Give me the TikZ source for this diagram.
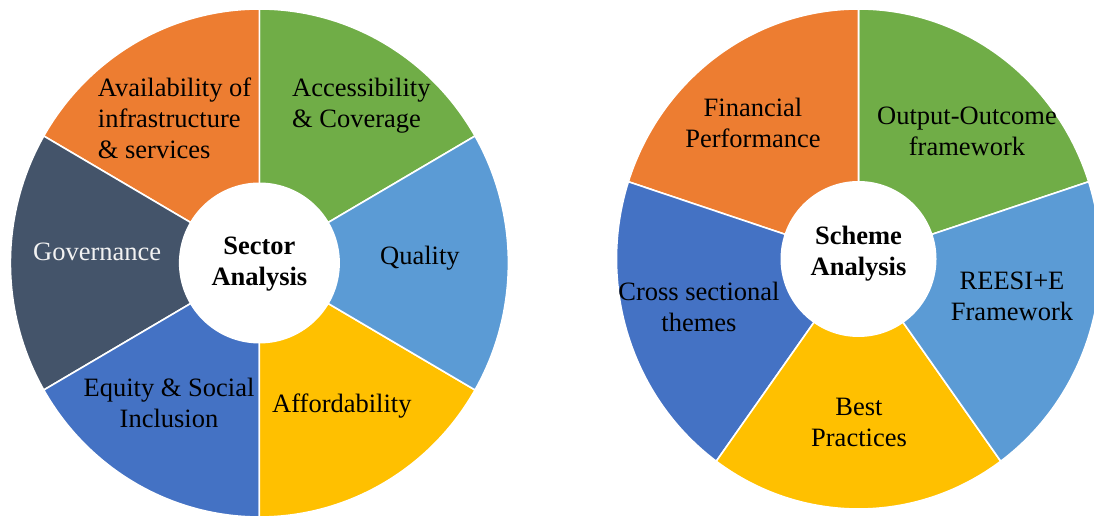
\documentclass[tikz,border=0pt]{standalone}
\usepackage{fontspec}
\setmainfont{Liberation Serif}
\usepackage{tikz}

\definecolor{wgreen}{HTML}{70AD47}
\definecolor{worange}{HTML}{ED7D31}
\definecolor{wslate}{HTML}{44546A}
\definecolor{wblue}{HTML}{4472C4}
\definecolor{wyellow}{HTML}{FFC000}
\definecolor{wlight}{HTML}{5B9BD5}

\tikzset{
  seg/.style={draw=white,line width=1.6pt,line join=round},
  lbl/.style={inner sep=0pt,font=\fontsize{26.5}{31}\selectfont},
  hub/.style={lbl,font=\fontsize{26.5}{31}\selectfont\bfseries}
}

\begin{document}
\begin{tikzpicture}[x=1pt,y=1pt]
\useasboundingbox (0,0) rectangle (1094,518);
\clip (0,0) rectangle (1094,518);

% sector wheel
\coordinate (sc) at (259.4,255);
\filldraw[seg,fill=wgreen](sc)--++(30:249 and 254) arc[start angle=30,end angle=90,x radius=249,y radius=254]--cycle;
\filldraw[seg,fill=worange](sc)--++(90:249 and 254) arc[start angle=90,end angle=150,x radius=249,y radius=254]--cycle;
\filldraw[seg,fill=wslate](sc)--++(150:249 and 254) arc[start angle=150,end angle=210,x radius=249,y radius=254]--cycle;
\filldraw[seg,fill=wblue](sc)--++(210:249 and 254) arc[start angle=210,end angle=270,x radius=249,y radius=254]--cycle;
\filldraw[seg,fill=wyellow](sc)--++(270:249 and 254) arc[start angle=270,end angle=330,x radius=249,y radius=254]--cycle;
\filldraw[seg,fill=wlight](sc)--++(-30:249 and 254) arc[start angle=-30,end angle=30,x radius=249,y radius=254]--cycle;
\fill[white](sc) circle(80.5);

% anchor base sits on the last line
\node[lbl,anchor=base west,align=left](avail) at (97.7,359){Availability of\\infrastructure\\\& services};
\node[lbl,anchor=base west,align=left](access) at (292,390){Accessibility\\\& Coverage};
\node[lbl,anchor=base west,text=white!95!black](gov) at (33,257.3){Governance};
\node[lbl,anchor=base west](quality) at (380,253){Quality};
\node[lbl,anchor=base,align=center](equity) at (169,90){Equity \& Social\\Inclusion};
\node[lbl,anchor=base west](afford) at (272,105){Affordability};
\node[hub,anchor=base,align=center](sector) at (259.4,232.3){Sector\\Analysis};

% scheme wheel
\coordinate (rc) at (858.5,259);
\filldraw[seg,fill=wgreen](rc)--++(18:242 and 250) arc[start angle=18,end angle=90,x radius=242,y radius=250]--cycle;
\filldraw[seg,fill=worange](rc)--++(90:242 and 250) arc[start angle=90,end angle=162,x radius=242,y radius=250]--cycle;
\filldraw[seg,fill=wblue](rc)--++(162:242 and 250) arc[start angle=162,end angle=234,x radius=242,y radius=250]--cycle;
\filldraw[seg,fill=wyellow](rc)--++(234:242 and 250) arc[start angle=234,end angle=306,x radius=242,y radius=250]--cycle;
\filldraw[seg,fill=wlight](rc)--++(306:242 and 250) arc[start angle=306,end angle=378,x radius=242,y radius=250]--cycle;
\fill[white](rc) circle(78);

\node[lbl,anchor=base,align=center](finance) at (753,370.3){Financial\\Performance};
\node[lbl,anchor=base,align=center](output) at (967,362){Output-Outcome\\framework};
\node[lbl,anchor=base,align=center](reesi) at (1012,197){REESI+E\\Framework};
\node[lbl,anchor=base,align=center](cross) at (699,186.3){Cross sectional\\themes};
\node[lbl,anchor=base,align=center](best) at (859,71.3){Best\\Practices};
\node[hub,anchor=base,align=center](scheme) at (858.5,242){Scheme\\Analysis};

\end{tikzpicture}
\end{document}
